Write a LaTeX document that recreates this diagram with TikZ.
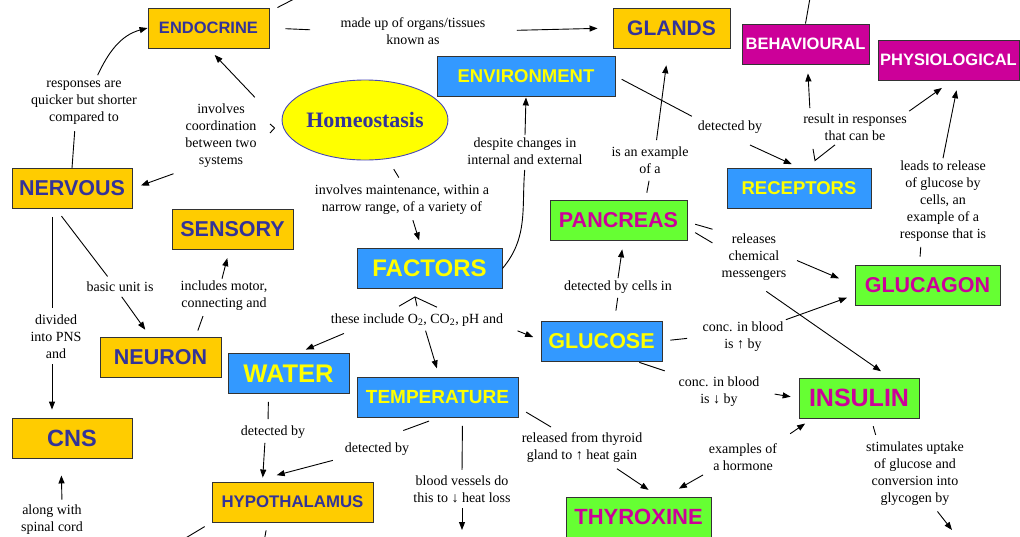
\documentclass[tikz,border=0pt]{standalone}
\usepackage{fontspec}
\setmainfont{Liberation Serif}
\newfontfamily\conceptfont{Liberation Sans}
\usepackage{xcolor}
\usepackage{tikz}
\usetikzlibrary{shapes.geometric,arrows.meta,positioning}
\definecolor{cmorange}{HTML}{FFCC00}
\definecolor{cmnavy}{HTML}{333399}
\definecolor{cmblue}{HTML}{3399FF}
\definecolor{cmyellow}{HTML}{FFFF00}
\definecolor{cmgreen}{HTML}{66FF33}
\definecolor{cmmagenta}{HTML}{CC0099}
\definecolor{cmedge}{HTML}{4848B8}
\newcommand{\up}{\textbf{↑}}
\newcommand{\down}{\textbf{↓}}

\begin{document}
\begin{tikzpicture}[x=1pt,y=-1pt,line width=0.9pt,
    >={Triangle[length=8pt,width=6pt]},
    concept/.style={draw=black!80, rectangle, minimum height=40pt, inner sep=2pt,
        font=\conceptfont\bfseries\fontsize{#1}{#1}\selectfont},
    orangebox/.style={concept=#1, fill=cmorange, text=cmnavy},
    bluebox/.style={concept=#1, fill=cmblue, text=cmyellow},
    greenbox/.style={concept=#1, fill=cmgreen, text=cmmagenta},
    pinkbox/.style={concept=#1, fill=cmmagenta, text=white},
    linklabel/.style={align=center, inner sep=2pt, font=\fontsize{14}{17}\selectfont}]
\useasboundingbox (0,0) rectangle (1020,536);

    % Concepts
    \node[orangebox=16.5, minimum width=121pt] (endocrine) at (208.5,28) {ENDOCRINE};
    \node[orangebox=21, minimum width=117pt] (glands) at (671.5,28) {GLANDS};
    \node[bluebox=18.5, minimum width=178pt] (environment) at (526,76) {ENVIRONMENT};
    \node[ellipse, draw=cmedge, fill=cmyellow, text=cmnavy, minimum width=160pt,
        minimum height=80pt, inner sep=0pt, font=\bfseries\fontsize{22}{22}\selectfont]
        (homeo) at (365,120) {Homeostasis};
    \node[pinkbox=16.5, minimum width=127pt] (behavioural) at (805.5,44) {BEHAVIOURAL};
    \node[pinkbox=16.5, minimum width=141pt] (physiological) at (948.5,60) {PHYSIOLOGICAL};
    \node[bluebox=18.5, minimum width=144pt] (receptors) at (799,188) {RECEPTORS};
    \node[greenbox=21.5, minimum width=137pt] (pancreas) at (618.5,220) {PANCREAS};
    \node[greenbox=21.5, minimum width=145pt] (glucagon) at (927.5,285) {GLUCAGON};
    \node[orangebox=21.5, minimum width=121pt] (sensory) at (232.5,229) {SENSORY};
    \node[orangebox=21.5, minimum width=120pt] (nervous) at (72,188.5) {NERVOUS};
    \node[bluebox=24, minimum width=145pt] (factors) at (429.5,268.5) {FACTORS};
    \node[orangebox=21.5, minimum width=121pt] (neuron) at (160.5,357.5) {NEURON};
    \node[bluebox=25.5, minimum width=121pt] (water) at (288.5,373.5) {WATER};
    \node[bluebox=21.5, minimum width=121pt] (glucose) at (601.5,341) {GLUCOSE};
    \node[bluebox=19, minimum width=161pt] (temperature) at (437.5,397.5) {TEMPERATURE};
    \node[greenbox=25, minimum width=120pt] (insulin) at (859,398) {INSULIN};
    \node[orangebox=23.5, minimum width=120pt] (cns) at (72,438) {CNS};
    \node[orangebox=16.8, minimum width=161pt] (hypo) at (292.5,502) {HYPOTHALAMUS};
    \node[greenbox=22, minimum width=145pt] (thyroxine) at (638.5,517) {THYROXINE};

    % Linking phrases
    \node[linklabel] (made) at (413,31) {made up of organs/tissues\\known as};
    \node[linklabel] (coord) at (221,136) {involves\\coordination\\between two\\systems};
    \node[linklabel] (resp) at (84,103) {responses are\\quicker but shorter\\compared to};
    \node[linklabel] (maint) at (402,200) {involves maintenance, within a\\narrow range, of a variety of};
    \node[linklabel] (despite) at (525,151) {despite changes in\\internal and external};
    \node[linklabel] (example) at (650,160) {is an example\\of a};
    \node[linklabel] (detrec) at (730,127) {detected by};
    \node[linklabel] (results) at (855,127) {result in responses\\that can be};
    \node[linklabel] (leads) at (943,201) {leads to release\\of glucose by\\cells, an\\example of a\\response that is};
    \node[linklabel] (releases) at (754,257) {releases\\chemical\\messengers};
    \node[linklabel] (cellsin) at (618,287) {detected by cells in};
    \node[linklabel] (concup) at (743,337) {conc. in blood\\is \up{} by};
    \node[linklabel] (concdown) at (719,392) {conc. in blood\\is \down{} by};
    \node[linklabel] (basic) at (120,287) {basic unit is};
    \node[linklabel] (divided) at (56,337) {divided\\into PNS\\and};
    \node[linklabel] (motor) at (224,296) {includes motor,\\connecting and};
    \node[linklabel] (include) at (417,320) {these include O\textsubscript{2}, CO\textsubscript{2}, pH and};
    \node[linklabel] (detw) at (273,432) {detected by};
    \node[linklabel] (dett) at (377,449) {detected by};
    \node[linklabel] (blood) at (462,489) {blood vessels do\\this to \down{} heat loss};
    \node[linklabel] (thyroid) at (582,448) {released from thyroid\\gland to \up{} heat gain};
    \node[linklabel] (hormone) at (743,457) {examples of\\a hormone};
    \node[linklabel] (stim) at (915,474) {stimulates uptake\\of glucose and\\conversion into\\glycogen by};
    \node[linklabel] (spinal) at (52,520) {along with\\spinal cord};

    % Free ends beyond the frame
    \coordinate (endotop) at (296,-2);
    \coordinate (behavtop) at (810,-2);
    \coordinate (lossend) at (462,530);
    \coordinate (glyend) at (952,530);
    \coordinate (hypoleft) at (184,539);
    \coordinate (hyporight) at (264,542);
    \coordinate (hjoin) at ([xshift=-7pt,yshift=-8pt]homeo.west);
    \coordinate (fjoin) at ([xshift=-14.5pt,yshift=-8pt]factors.south);
    \coordinate (rjoin) at ([xshift=16pt,yshift=7pt]receptors.north);

    % Endocrine and nervous systems
    \draw ([xshift=8pt]endocrine.north east) -- (endotop);
    \draw[shorten <=16pt, shorten >=28pt] (endocrine.east) -- (made.west);
    \draw[->, shorten <=29pt, shorten >=15pt] (made.east) -- (glands.west);
    \draw[->, shorten <=6pt, shorten >=9pt] (coord.north east) -- (endocrine.south);
    \draw[->, shorten <=10pt, shorten >=9pt] (coord.south west) -- (nervous.east);
    \draw ([xshift=11pt,yshift=12pt]coord.east) -- (hjoin) -- ([xshift=11pt,yshift=3pt]coord.east);
    \draw[shorten >=4pt] (nervous.north) -- ([xshift=-9pt]resp.south);
    \draw[->, shorten <=4pt] ([xshift=12pt]resp.north) to[out=65,in=195] (endocrine.west);
    \draw[shorten <=9pt, shorten >=4pt] ([xshift=-16pt]nervous.south) -- ([xshift=-10pt]basic.north);
    \draw[->, shorten <=3pt, shorten >=9pt] (basic.south) -- ([xshift=-10pt]neuron.north);
    \draw[shorten <=8pt, shorten >=5pt] ([xshift=-20pt]nervous.south) -- ([xshift=-4pt]divided.north);
    \draw[->, shorten <=3pt, shorten >=8pt] ([xshift=-4pt]divided.south) -- ([xshift=-20pt]cns.north);
    \draw[shorten <=7pt, shorten >=3pt] ([xshift=35pt]neuron.north) -- ([xshift=-20pt]motor.south);
    \draw[->, shorten >=9pt] ([xshift=-2pt]motor.north) -- ([xshift=-3pt]sensory.south);
    \draw[->, shorten <=3pt, shorten >=17pt] ([xshift=10pt]spinal.north) -- ([xshift=-11pt]cns.south);
    \draw[shorten <=8pt] (hypo.south west) -- (hypoleft);
    \draw[shorten <=8pt] ([xshift=-25pt]hypo.south) -- (hyporight);

    % Factors
    \draw[shorten <=12pt, shorten >=6pt] (homeo.-60) -- (maint.north);
    \draw[->, shorten <=3pt, shorten >=8pt] ([xshift=10pt]maint.south) -- ([xshift=-8pt]factors.north);
    \draw[shorten >=3pt] (factors.east) to[out=50,in=-95] (despite.south);
    \draw[->, shorten >=1pt] (despite.north) -- (environment.south);
    \draw ([xshift=-18pt,yshift=5pt]include.north) -- (fjoin) -- ([xshift=20pt,yshift=4pt]include.north);
    \draw ([yshift=5pt]include.north) -- (fjoin);
    \draw[->, shorten <=12pt, shorten >=9pt] ([xshift=-62pt]include.south) -- ([xshift=9pt]water.north);
    \draw[->, shorten <=2pt, shorten >=9pt] ([xshift=8pt]include.south) -- ([xshift=2pt]temperature.north);
    \draw[->, shorten <=13pt, shorten >=8pt] ([yshift=-6pt]include.east) -- ([yshift=1pt]glucose.west);
    \draw[shorten <=8pt, shorten >=4pt] ([xshift=-20pt]water.south) -- ([xshift=-5pt]detw.north);
    \draw[->, shorten <=2pt, shorten >=4pt] ([xshift=-8pt]detw.south) -- ([xshift=-30pt]hypo.north);
    \draw[shorten <=9pt, shorten >=28pt] (temperature.south) -- (dett.north);
    \draw[->, shorten <=10pt, shorten >=25pt] (dett.south west) -- ([xshift=-40pt]hypo.north);
    \draw[shorten <=8pt, shorten >=3pt] ([xshift=25pt]temperature.south) -- (blood.north);
    \draw[->, shorten <=3pt] (blood.south) -- (lossend);
    \draw[shorten <=9pt, shorten >=7pt] ([yshift=-10pt]temperature.east) -- ([xshift=-25pt]thyroid.north);
    \draw[->, shorten <=6pt, shorten >=12pt] ([xshift=30pt]thyroid.south) -- ([xshift=20pt]thyroxine.north);

    % Receptors and responses
    \draw[shorten <=7pt, shorten >=4pt] (environment.east) -- (detrec.north west);
    \draw[->, shorten <=22pt, shorten >=8pt] (detrec.south) -- (receptors.north);
    \draw ([xshift=-42pt,yshift=-6pt]results.south) -- (rjoin) -- ([xshift=-20pt,yshift=-2pt]results.south);
    \draw[->, shorten <=3pt, shorten >=9pt] ([xshift=-45pt]results.north) -- ([xshift=2pt]behavioural.south);
    \draw[->, shorten >=13pt] (results.north east) -- ([xshift=4pt]physiological.south);
    \draw (behavioural.north) -- (behavtop);

    % Glucose control
    \draw[shorten <=7pt, shorten >=5pt] ([xshift=27pt]pancreas.north) -- (example.south);
    \draw[->, shorten <=4pt, shorten >=17pt] ([xshift=6pt]example.north) -- ([xshift=-3pt]glands.south);
    \draw[shorten <=8pt, shorten >=3pt] ([xshift=-8pt]glucagon.north) -- ([xshift=-22pt]leads.south);
    \draw[->, shorten >=10pt] (leads.north) -- ([xshift=10pt]physiological.south);
    \draw[shorten <=8pt, shorten >=7pt] ([yshift=-2pt]pancreas.east) -- (releases.north west);
    \draw[shorten <=9pt, shorten >=8pt] ([yshift=-8pt]pancreas.east) -- ([yshift=10pt]releases.west);
    \draw[->, shorten <=9pt, shorten >=17pt] (releases.east) -- (glucagon.west);
    \draw[->, shorten <=15pt, shorten >=11pt] (releases.south) -- ([xshift=31pt]insulin.north);
    \draw[shorten <=10pt, shorten >=2pt] ([xshift=13pt]glucose.north) -- (cellsin.south);
    \draw[->, shorten >=9pt] (cellsin.north) -- ([xshift=5pt]pancreas.south);
    \draw[shorten <=8pt, shorten >=13pt] (glucose.east) -- (concup.west);
    \draw[->, shorten >=8pt] (concup.north east) -- ([yshift=-10pt]glucagon.west);
    \draw[shorten <=3pt, shorten >=12pt] ([xshift=35pt]glucose.south) -- (concdown.north west);
    \draw[->, shorten <=13pt, shorten >=8pt] (concdown.east) -- (insulin.west);
    \draw[->, shorten <=13pt, shorten >=9pt] (hormone.north east) -- ([xshift=14pt]insulin.south west);
    \draw[->, shorten <=4pt, shorten >=16pt] (hormone.south west) -- ([xshift=26.5pt]thyroxine.north);
    \draw[shorten <=8pt, shorten >=5pt] ([xshift=12pt]insulin.south) -- ([xshift=-38pt]stim.north);
    \draw[->, shorten <=4pt] ([xshift=20pt]stim.south) -- (glyend);
\end{tikzpicture}
\end{document}
